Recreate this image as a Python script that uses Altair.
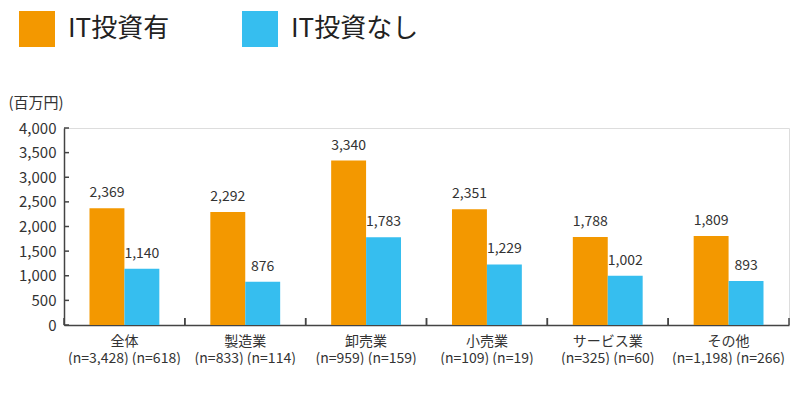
import altair as alt
import pandas as pd

categories = ["全体", "製造業", "卸売業", "小売業", "サービス業", "その他"]
n_labels = ["(n=3,428) (n=618)", "(n=833) (n=114)", "(n=959) (n=159)",
            "(n=109) (n=19)", "(n=325) (n=60)", "(n=1,198) (n=266)"]
series = ["IT投資有", "IT投資なし"]
it_yes = [2369, 2292, 3340, 2351, 1788, 1809]
it_no = [1140, 876, 1783, 1229, 1002, 893]
y_ticks = [0, 500, 1000, 1500, 2000, 2500, 3000, 3500, 4000]
colors = ["#F39800", "#36BEEF"]

FONT = "Noto Sans CJK JP"
cat_keys = [c + "|" + n for c, n in zip(categories, n_labels)]

rows = []
for k, a, b in zip(cat_keys, it_yes, it_no):
    rows.append({"cat": k, "series": series[0], "value": a})
    rows.append({"cat": k, "series": series[1], "value": b})
df = pd.DataFrame(rows)
cat_df = pd.DataFrame({"cat": cat_keys})
tick_df = pd.DataFrame({"value": y_ticks})

W, H = 725, 197

xscale = alt.Scale(domain=cat_keys, paddingInner=0, paddingOuter=0)
yscale = alt.Scale(domain=[0, 4000], nice=False)

x_axis = alt.Axis(labelExpr="split(datum.label, '|')", labelAngle=0,
                  labelFont=FONT, labelFontSize=14, labelColor="#333",
                  labelLineHeight=17, labelPadding=9, ticks=False,
                  domainColor="#444", domainWidth=1.5)
y_enc = alt.Y("value:Q", scale=yscale,
              axis=alt.Axis(values=y_ticks, format=",d", grid=False, ticks=False,
                            labelFont=FONT, labelFontSize=15, labelColor="#333",
                            labelPadding=8, domainColor="#444", domainWidth=1.5,
                            title="(百万円)", titleAngle=0, titleFont=FONT,
                            titleFontSize=15, titleFontWeight="normal", titleColor="#333",
                            titleX=-56, titleY=-18, titleAlign="left",
                            titleBaseline="bottom"))
xoff = alt.XOffset("series:N", sort=series,
                   scale=alt.Scale(domain=series, paddingInner=0, paddingOuter=0.73))

bars = alt.Chart(df).mark_bar().encode(
    x=alt.X("cat:N", sort=cat_keys, scale=xscale, title=None, axis=x_axis),
    xOffset=xoff,
    y=y_enc,
    color=alt.Color("series:N", sort=series,
                    scale=alt.Scale(domain=series, range=colors),
                    legend=alt.Legend(title=None, orient="none", legendX=-45, legendY=-117,
                                      direction="horizontal", symbolType="square",
                                      symbolSize=1296, symbolStrokeWidth=0,
                                      labelFont=FONT, labelFontSize=26, labelColor="#222",
                                      labelOffset=13, columnPadding=72)),
)

labels = alt.Chart(df).mark_text(baseline="bottom", dy=-8, font=FONT, fontSize=14,
                                  color="#333").encode(
    x=alt.X("cat:N", sort=cat_keys, scale=xscale, title=None, axis=x_axis),
    xOffset=xoff,
    y=y_enc,
    text=alt.Text("value:Q", format=",d"),
)

xticks_start = alt.Chart(cat_df).mark_rule(color="#444", strokeWidth=1.5).encode(
    x=alt.X("cat:N", sort=cat_keys, scale=xscale, bandPosition=0, title=None, axis=x_axis),
    y=alt.value(H - 7), y2=alt.value(H),
)
xticks_end = alt.Chart(cat_df).mark_rule(color="#444", strokeWidth=1.5).encode(
    x=alt.X("cat:N", sort=cat_keys, scale=xscale, bandPosition=1, title=None, axis=x_axis),
    y=alt.value(H - 7), y2=alt.value(H),
)
yticks = alt.Chart(tick_df).mark_rule(color="#444", strokeWidth=1.5).encode(
    y=y_enc,
    x=alt.value(0), x2=alt.value(5),
)

chart = alt.layer(bars, labels, xticks_start, xticks_end, yticks).properties(
    width=W, height=H, padding={"top": 3, "left": 0, "right": 0, "bottom": 0}
).configure_view(stroke=None).configure(background="white")

chart.save("out.html", embed_options={"renderer": "svg", "actions": False})
